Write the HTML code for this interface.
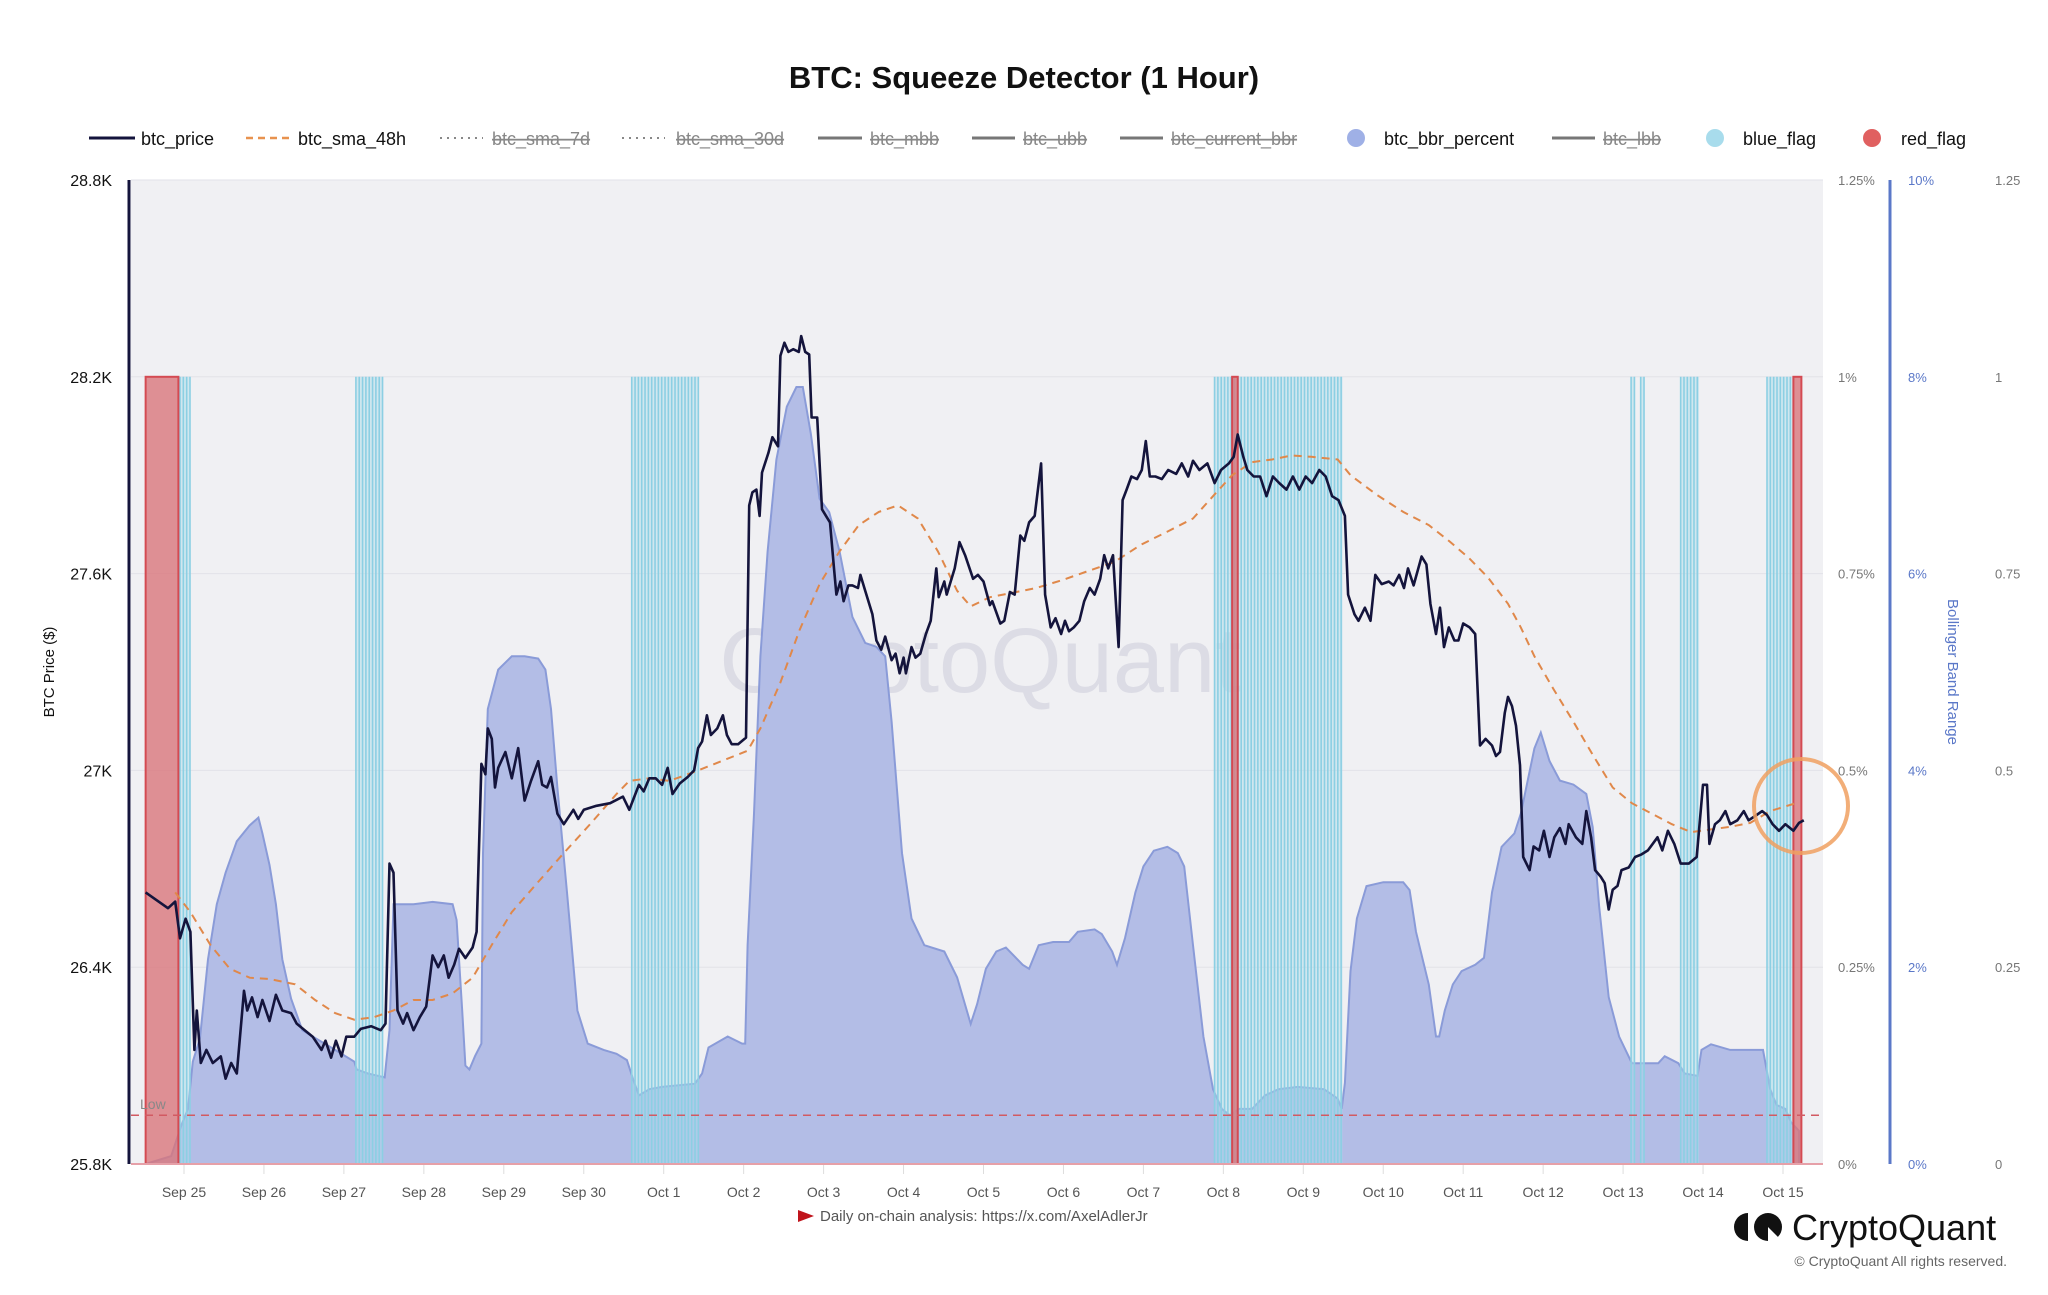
<!DOCTYPE html>
<html><head><meta charset="utf-8">
<style>
html,body{margin:0;padding:0;background:#fff;}
body{width:2048px;height:1290px;overflow:hidden;font-family:"Liberation Sans",sans-serif;}
svg text{font-family:"Liberation Sans",sans-serif;}
</style></head>
<body>
<svg id="chart" width="2048" height="1290" viewBox="0 0 2048 1290" xmlns="http://www.w3.org/2000/svg">
<text x="1024" y="88" text-anchor="middle" font-size="31" font-weight="bold" fill="#111">BTC: Squeeze Detector (1 Hour)</text>
<g id="legend" font-size="18">
 <g><line x1="89" y1="138" x2="135" y2="138" stroke="#14143c" stroke-width="3"/><text x="141" y="145" fill="#111">btc_price</text></g>
 <g><line x1="246" y1="138" x2="289" y2="138" stroke="#e8924f" stroke-width="2.5" stroke-dasharray="7,5"/><text x="298" y="145" fill="#111">btc_sma_48h</text></g>
 <g><line x1="440" y1="138" x2="483" y2="138" stroke="#888" stroke-width="2" stroke-dasharray="2,5"/><text x="492" y="145" fill="#888" text-decoration="line-through">btc_sma_7d</text></g>
 <g><line x1="622" y1="138" x2="665" y2="138" stroke="#888" stroke-width="2" stroke-dasharray="2,5"/><text x="676" y="145" fill="#888" text-decoration="line-through">btc_sma_30d</text></g>
 <g><line x1="818" y1="138" x2="862" y2="138" stroke="#777" stroke-width="3"/><text x="870" y="145" fill="#888" text-decoration="line-through">btc_mbb</text></g>
 <g><line x1="972" y1="138" x2="1015" y2="138" stroke="#777" stroke-width="3"/><text x="1023" y="145" fill="#888" text-decoration="line-through">btc_ubb</text></g>
 <g><line x1="1120" y1="138" x2="1163" y2="138" stroke="#777" stroke-width="3"/><text x="1171" y="145" fill="#888" text-decoration="line-through">btc_current_bbr</text></g>
 <g><circle cx="1356" cy="138" r="9" fill="#9fb0e6"/><text x="1384" y="145" fill="#111">btc_bbr_percent</text></g>
 <g><line x1="1552" y1="138" x2="1595" y2="138" stroke="#777" stroke-width="3"/><text x="1603" y="145" fill="#888" text-decoration="line-through">btc_lbb</text></g>
 <g><circle cx="1715" cy="138" r="9" fill="#a8dcec"/><text x="1743" y="145" fill="#111">blue_flag</text></g>
 <g><circle cx="1872" cy="138" r="9" fill="#e06060"/><text x="1901" y="145" fill="#111">red_flag</text></g>
</g>
<rect x="131" y="180" width="1692" height="984" fill="#f0f0f3"/>
<g id="grid"></g>
<text x="980" y="692" text-anchor="middle" font-size="92" font-family="Liberation Sans, sans-serif" fill="#d8d8e2" opacity="0.8">CryptoQuant</text>
<g id="bbr"></g>
<g id="flags"></g>
<g id="lines"></g>
<g id="axes"></g>
<circle cx="1801" cy="806" r="47" fill="none" stroke="#f0a060" stroke-width="4" opacity="0.85"/>
<text transform="translate(54,672) rotate(-90)" text-anchor="middle" font-size="15" fill="#111">BTC Price ($)</text>
<text transform="translate(1948,672) rotate(90)" text-anchor="middle" font-size="15" fill="#5b78c8">Bollinger Band Range</text>
<g><path d="M798 1210 L814 1216 L798 1222 Z" fill="#c0141c"/><text x="820" y="1221" font-size="15" fill="#555">Daily on-chain analysis: https://x.com/AxelAdlerJr</text></g>
<g>
 <path d="M1748 1213 a14 14 0 0 0 0 28 z" fill="#111"/><circle cx="1768" cy="1227" r="14" fill="#111"/><path d="M1768 1227 L1782 1241 L1768 1241 Z" fill="#fff"/>
 <text x="1792" y="1240" font-size="36" fill="#111">CryptoQuant</text>
</g>
<text x="2007" y="1266" text-anchor="end" font-size="14" fill="#666">© CryptoQuant All rights reserved.</text>
</svg>
<script>
// time in days since Sep 25 00:00
const priceTimes=[-0.48,-0.20,-0.11,-0.05,0.02,0.08,0.13,0.16,0.21,0.28,0.36,0.46,0.52,0.59,0.66,0.75,0.79,0.85,0.92,0.98,1.07,1.15,1.23,1.34,1.41,1.51,1.61,1.72,1.77,1.84,1.90,1.97,2.03,2.13,2.21,2.34,2.46,2.52,2.57,2.62,2.67,2.74,2.79,2.87,2.95,3.03,3.11,3.18,3.25,3.31,3.38,3.44,3.52,3.61,3.66,3.72,3.77,3.80,3.85,3.89,3.93,4.02,4.10,4.18,4.26,4.34,4.43,4.48,4.54,4.59,4.67,4.75,4.87,4.93,5.00,5.16,5.33,5.49,5.57,5.69,5.75,5.82,5.90,5.98,6.05,6.11,6.20,6.30,6.38,6.43,6.48,6.54,6.59,6.67,6.74,6.79,6.85,6.93,7.03,7.07,7.11,7.16,7.20,7.23,7.31,7.36,7.43,7.46,7.51,7.56,7.62,7.69,7.72,7.77,7.82,7.85,7.92,7.98,8.03,8.08,8.13,8.16,8.21,8.25,8.31,8.36,8.43,8.46,8.52,8.61,8.66,8.72,8.77,8.85,8.90,8.95,9.00,9.03,9.10,9.15,9.21,9.28,9.34,9.41,9.44,9.51,9.54,9.64,9.70,9.77,9.87,9.93,10.00,10.08,10.11,10.21,10.26,10.33,10.39,10.46,10.51,10.57,10.64,10.69,10.72,10.77,10.84,10.90,10.97,11.02,11.07,11.13,11.20,11.26,11.33,11.39,11.46,11.51,11.56,11.62,11.69,11.74,11.79,11.85,11.92,11.98,12.03,12.08,12.15,12.23,12.31,12.41,12.48,12.56,12.62,12.70,12.80,12.89,12.97,13.07,13.13,13.18,13.25,13.30,13.38,13.46,13.54,13.62,13.70,13.79,13.87,13.95,14.03,14.11,14.20,14.28,14.36,14.44,14.52,14.56,14.64,14.69,14.77,14.84,14.90,14.98,15.07,15.13,15.20,15.26,15.31,15.38,15.48,15.54,15.59,15.66,15.71,15.76,15.82,15.89,15.94,16.00,16.08,16.15,16.21,16.28,16.36,16.41,16.46,16.52,16.56,16.61,16.66,16.71,16.75,16.83,16.88,16.95,17.01,17.08,17.14,17.21,17.28,17.32,17.41,17.49,17.54,17.60,17.65,17.72,17.77,17.82,17.87,17.93,17.98,18.07,18.15,18.23,18.31,18.43,18.49,18.56,18.64,18.72,18.82,18.92,19.00,19.05,19.08,19.15,19.21,19.28,19.34,19.43,19.51,19.57,19.67,19.74,19.80,19.87,19.95,20.03,20.13,20.20,20.26];
const priceValues=[26628,26580,26600,26488,26548,26508,26148,26268,26108,26148,26108,26128,26060,26108,26076,26328,26268,26308,26248,26300,26236,26316,26268,26260,26228,26208,26188,26148,26176,26124,26176,26128,26188,26188,26212,26220,26208,26228,26716,26688,26268,26228,26260,26208,26248,26280,26436,26400,26436,26368,26408,26456,26428,26460,26508,27020,26988,27128,27096,26948,27008,27056,26976,27068,26908,26968,27028,26956,26948,26980,26868,26836,26880,26852,26880,26892,26900,26920,26880,26956,26936,26976,26976,26956,27008,26928,26960,26980,27000,27068,27088,27168,27108,27128,27168,27108,27080,27080,27100,27808,27848,27856,27776,27908,27968,28016,27988,28264,28304,28276,28284,28276,28324,28276,28268,28076,28076,27796,27776,27756,27616,27536,27576,27516,27564,27564,27556,27596,27548,27476,27396,27368,27408,27336,27356,27296,27344,27296,27376,27344,27356,27416,27456,27616,27528,27576,27536,27616,27696,27656,27584,27596,27576,27504,27516,27448,27456,27544,27536,27716,27700,27756,27776,27876,27936,27536,27436,27464,27416,27456,27424,27436,27456,27516,27556,27536,27584,27656,27616,27656,27376,27824,27856,27896,27888,27916,28004,27896,27896,27888,27916,27904,27936,27896,27944,27916,27936,27876,27916,27936,27956,28024,27956,27916,27896,27896,27836,27896,27876,27856,27896,27856,27896,27876,27916,27896,27836,27824,27776,27536,27476,27456,27496,27456,27596,27568,27576,27564,27596,27556,27616,27564,27652,27628,27508,27416,27496,27376,27436,27396,27396,27448,27436,27416,27076,27096,27076,27044,27056,27176,27224,27196,27136,27016,26736,26696,26768,26756,26816,26736,26796,26824,26776,26836,26796,26776,26876,26796,26696,26676,26656,26576,26636,26648,26696,26704,26736,26744,26756,26796,26756,26816,26776,26716,26716,26736,26956,26956,26776,26836,26848,26876,26836,26848,26876,26848,26864,26876,26864,26836,26816,26836,26816,26840,26848];
const smaTimes=[-0.11,0.08,0.33,0.57,0.82,1.07,1.39,1.64,1.89,2.13,2.38,2.62,2.87,3.11,3.36,3.61,3.85,4.10,4.43,4.75,5.08,5.41,5.57,5.82,6.07,6.39,6.72,7.05,7.21,7.46,7.70,7.95,8.20,8.44,8.69,8.93,9.18,9.43,9.67,9.84,10.08,10.33,10.66,10.98,11.31,11.64,11.97,12.30,12.62,12.87,13.11,13.36,13.61,13.85,14.10,14.43,14.59,14.92,15.25,15.57,15.82,16.07,16.31,16.56,16.72,16.89,17.13,17.38,17.62,17.87,18.11,18.36,18.61,18.85,19.10,19.34,19.59,19.84,20.16];
const smaValues=[26628,26568,26468,26396,26368,26364,26348,26300,26260,26240,26248,26268,26300,26300,26320,26368,26468,26568,26660,26748,26836,26928,26968,26976,26968,26996,27028,27060,27128,27268,27428,27568,27668,27748,27788,27808,27768,27668,27548,27500,27528,27540,27556,27580,27608,27636,27688,27728,27768,27836,27900,27940,27948,27960,27956,27948,27900,27840,27788,27748,27700,27648,27588,27508,27436,27348,27248,27148,27048,26948,26900,26868,26836,26812,26820,26828,26840,26876,26900];
const bbrTimes=[-0.48,-0.16,-0.03,0.05,0.11,0.20,0.30,0.41,0.52,0.66,0.82,0.93,0.98,1.07,1.15,1.23,1.34,1.48,1.64,1.89,2.13,2.16,2.30,2.51,2.57,2.62,2.87,3.11,3.36,3.41,3.48,3.52,3.57,3.64,3.72,3.74,3.80,3.93,4.10,4.26,4.43,4.52,4.59,4.67,4.79,4.92,5.05,5.25,5.41,5.54,5.62,5.69,5.82,5.98,6.39,6.48,6.56,6.80,6.98,7.02,7.05,7.13,7.21,7.30,7.41,7.54,7.66,7.74,7.84,7.95,8.07,8.20,8.36,8.52,8.66,8.77,8.85,8.98,9.10,9.26,9.51,9.67,9.84,9.92,10.03,10.16,10.28,10.49,10.57,10.69,10.87,11.07,11.18,11.39,11.48,11.61,11.67,11.77,11.90,12.00,12.13,12.30,12.43,12.51,12.62,12.75,12.87,12.98,13.08,13.20,13.36,13.52,13.69,13.93,14.26,14.43,14.48,14.52,14.59,14.67,14.79,15.00,15.25,15.33,15.41,15.57,15.66,15.70,15.77,15.87,15.98,16.15,16.26,16.36,16.48,16.64,16.72,16.89,16.97,17.08,17.21,17.38,17.54,17.62,17.70,17.82,17.95,18.11,18.44,18.52,18.69,18.77,18.93,18.98,19.10,19.34,19.75,19.84,19.92,20.03,20.10,20.20];
const bbrValues=[0,0.01,0.05,0.07,0.13,0.16,0.26,0.33,0.37,0.41,0.43,0.44,0.42,0.38,0.33,0.26,0.21,0.17,0.16,0.145,0.13,0.12,0.115,0.11,0.17,0.33,0.33,0.333,0.33,0.31,0.195,0.125,0.12,0.137,0.153,0.395,0.578,0.628,0.645,0.645,0.642,0.628,0.578,0.478,0.345,0.195,0.153,0.145,0.14,0.132,0.107,0.087,0.095,0.098,0.102,0.115,0.148,0.162,0.153,0.153,0.278,0.445,0.645,0.778,0.895,0.962,0.987,0.987,0.928,0.845,0.828,0.778,0.695,0.662,0.657,0.645,0.562,0.395,0.312,0.278,0.27,0.237,0.178,0.203,0.248,0.27,0.275,0.253,0.248,0.278,0.282,0.282,0.295,0.298,0.292,0.27,0.253,0.287,0.345,0.378,0.398,0.403,0.395,0.378,0.278,0.162,0.095,0.07,0.062,0.07,0.07,0.087,0.095,0.098,0.095,0.083,0.07,0.103,0.245,0.312,0.353,0.358,0.358,0.348,0.295,0.228,0.162,0.162,0.195,0.228,0.245,0.253,0.262,0.345,0.403,0.42,0.445,0.528,0.548,0.512,0.487,0.482,0.47,0.428,0.328,0.212,0.162,0.128,0.128,0.137,0.128,0.115,0.112,0.145,0.152,0.145,0.145,0.095,0.075,0.07,0.053,0.042];
const blueFlagStarts=[-0.05,2.15,5.60,12.89,18.10,18.22,18.72,19.80];
const blueFlagEnds=[0.08,2.49,6.44,14.49,18.15,18.27,18.95,20.13];
const redFlagStarts=[-0.48,13.11,20.13];
const redFlagEnds=[-0.07,13.18,20.23];
const flagValue=1;
const lowThreshold=0.062;
const priceTicks=[25800,26400,27000,27600,28200,28800];
const priceTickLabels=["25.8K","26.4K","27K","27.6K","28.2K","28.8K"];
const pctTicks=[0,0.25,0.5,0.75,1,1.25];
const pctTickLabels=["0%","0.25%","0.5%","0.75%","1%","1.25%"];
const rangeTickLabels=["0%","2%","4%","6%","8%","10%"];
const ratioTickLabels=["0","0.25","0.5","0.75","1","1.25"];
const dateLabels=["Sep 25","Sep 26","Sep 27","Sep 28","Sep 29","Sep 30","Oct 1","Oct 2","Oct 3","Oct 4","Oct 5","Oct 6","Oct 7","Oct 8","Oct 9","Oct 10","Oct 11","Oct 12","Oct 13","Oct 14","Oct 15"];

const NS="http://www.w3.org/2000/svg";
const PL=131,PR=1823,PT=180,PB=1164;
function X(d){return 184+d*79.95;}
function YP(p){return PB-(p-25800)/3000*(PB-PT);}
function YR(v){return PB-v/1.25*(PB-PT);}
function mk(tag,attrs,parent){const e=document.createElementNS(NS,tag);for(const k in attrs)e.setAttribute(k,attrs[k]);parent.appendChild(e);return e;}

const grid=document.getElementById('grid');
const axes=document.getElementById('axes');
priceTicks.forEach((p,i)=>{
  const y=YP(p);
  const gl=mk('line',{x1:PL,x2:PR,y1:y,y2:y,stroke:'#e2e2e8','stroke-width':1},grid);
  
  
  const t=mk('text',{x:112,y:y+6,'text-anchor':'end','font-size':16,fill:'#111'},axes);
  t.textContent=priceTickLabels[i];
  
  
});
pctTicks.forEach((v,i)=>{
  const y=YR(v);
  const t1=mk('text',{x:1838,y:y+5,'font-size':13,fill:'#777'},axes);
  t1.textContent=pctTickLabels[i];
  
  
  const t2=mk('text',{x:1908,y:y+5,'font-size':13,fill:'#5b78c8'},axes);
  t2.textContent=rangeTickLabels[i];
  
  
  const t3=mk('text',{x:1995,y:y+5,'font-size':13,fill:'#777'},axes);
  t3.textContent=ratioTickLabels[i];
  
  
});
dateLabels.forEach((lab,i)=>{
  const x=X(i);
  const tk=mk('line',{x1:x,x2:x,y1:PB,y2:PB+10,stroke:'#ddd','stroke-width':1},axes);
  
  
  const t=mk('text',{x:x,y:1197,'text-anchor':'middle','font-size':14,fill:'#555'},axes);
  t.textContent=lab;
  
  
});
const la=mk('line',{x1:129,x2:129,y1:PT,y2:PB,stroke:'#14143c','stroke-width':3},axes);


const ra=mk('line',{x1:1890,x2:1890,y1:PT,y2:PB,stroke:'#5b78c8','stroke-width':3},axes);


const bl=mk('line',{x1:PL,x2:PR,y1:PB,y2:PB,stroke:'#e6a0a8','stroke-width':2},axes);



const bbr=document.getElementById('bbr');
let d='M'+X(bbrTimes[0])+','+PB;
bbrTimes.forEach((t,i)=>{d+=' L'+X(t).toFixed(1)+','+YR(bbrValues[i]).toFixed(1);});
d+=' L'+X(bbrTimes[bbrTimes.length-1])+','+PB+' Z';
const area=mk('path',{d:d,fill:'#b3bde6',stroke:'#8a9bd8','stroke-width':2},bbr);



const flags=document.getElementById('flags');
const fy=YR(flagValue);
blueFlagStarts.forEach((s,i)=>{
  const x0=X(s),x1=X(blueFlagEnds[i]);
  const r=mk('rect',{x:x0,y:fy,width:x1-x0,height:PB-fy,fill:'#a8dcec','fill-opacity':0.45},flags);
  
  
  for(let t=s;t<=blueFlagEnds[i]+1e-6;t+=1/24){
    const ln=mk('line',{x1:X(t),x2:X(t),y1:fy,y2:PB,stroke:'#8ccfe3','stroke-width':1.6},flags);
    
    
  }
});
redFlagStarts.forEach((s,i)=>{
  const x0=X(s),x1=X(redFlagEnds[i]);
  const r=mk('rect',{x:x0,y:fy,width:Math.max(x1-x0,3),height:PB-fy,fill:'#d9777c','fill-opacity':0.8,stroke:'#d44a52','stroke-width':2},flags);
  
  
});
const low=mk('line',{x1:PL,x2:PR,y1:YR(lowThreshold),y2:YR(lowThreshold),stroke:'#d25a62','stroke-width':1.5,'stroke-dasharray':'8,6'},flags);


const lowT=mk('text',{x:140,y:YR(lowThreshold)-6,'font-size':14,fill:'#888'},flags);
lowT.textContent='Low';



const lines=document.getElementById('lines');
const smaPts=smaTimes.map((t,i)=>X(t).toFixed(1)+','+YP(smaValues[i]).toFixed(1)).join(' ');
const sma=mk('polyline',{points:smaPts,fill:'none',stroke:'#e0884a','stroke-width':2,'stroke-dasharray':'8,6'},lines);


const pPts=priceTimes.map((t,i)=>X(t).toFixed(1)+','+YP(priceValues[i]).toFixed(1)).join(' ');
const price=mk('polyline',{points:pPts,fill:'none',stroke:'#14143c','stroke-width':2.6,'stroke-linejoin':'round'},lines);


</script>
</body></html>
